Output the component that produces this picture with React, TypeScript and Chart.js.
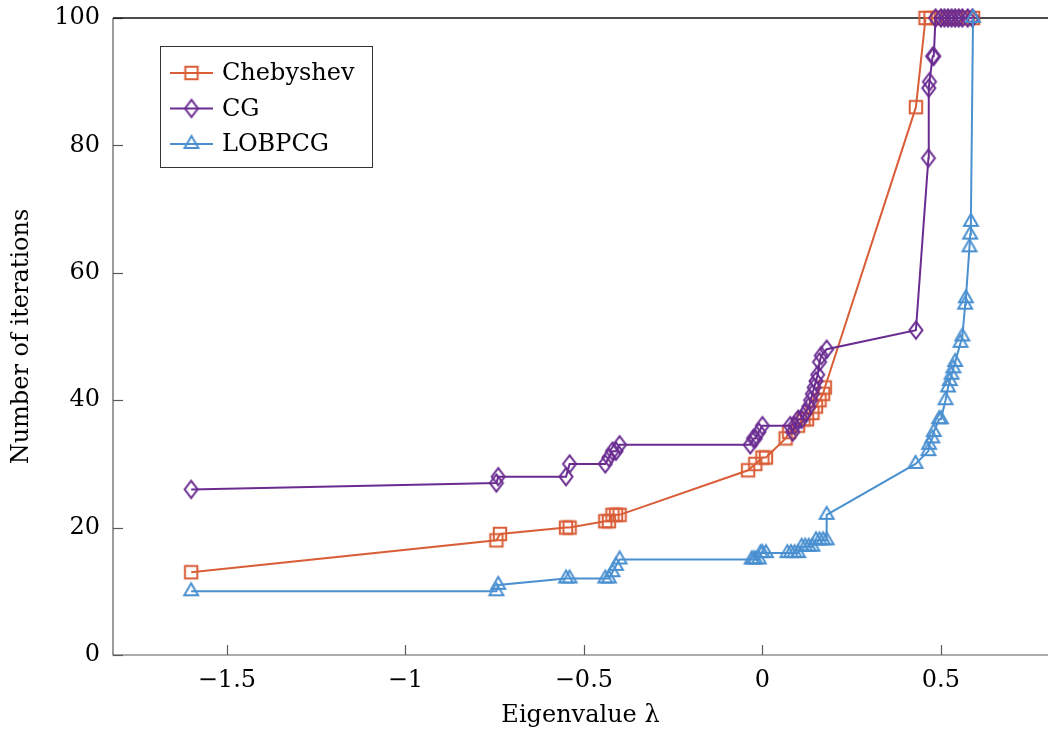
import React, { useEffect, useRef } from 'react';
import { Chart, registerables } from 'chart.js';

Chart.register(...registerables);

const xTickValues = [-1.5, -1, -0.5, 0, 0.5];
const yTickValues = [0, 20, 40, 60, 80, 100];

const seriesNames = ['Chebyshev', 'CG', 'LOBPCG'];
const seriesColors = ['rgb(217,94,56)', 'rgb(106,44,145)', 'rgb(74,144,208)'];
const markerKinds = ['square', 'diamond', 'triangle'];

const chebX = [-1.6, -0.745, -0.735, -0.55, -0.54, -0.44, -0.43, -0.42, -0.41, -0.4, -0.04, -0.02, 0.0, 0.01, 0.065, 0.075, 0.1, 0.115, 0.125, 0.14, 0.15, 0.16, 0.17, 0.175, 0.43, 0.457, 0.471, 0.49, 0.5, 0.52, 0.54, 0.56, 0.575, 0.59];
const chebY = [13, 18, 19, 20, 20, 21, 21, 22, 22, 22, 29, 30, 31, 31, 34, 35, 36, 37, 37, 38, 39, 40, 41, 42, 86, 100, 100, 100, 100, 100, 100, 100, 100, 100];

const cgX = [-1.6, -0.745, -0.74, -0.55, -0.54, -0.44, -0.43, -0.42, -0.41, -0.4, -0.034, -0.025, -0.02, -0.01, 0.0, 0.078, 0.085, 0.09, 0.1, 0.11, 0.12, 0.13, 0.135, 0.14, 0.145, 0.15, 0.155, 0.16, 0.165, 0.18, 0.43, 0.465, 0.466, 0.468, 0.477, 0.48, 0.485, 0.5, 0.51, 0.52, 0.53, 0.54, 0.55, 0.56, 0.575, 0.588];
const cgY = [26, 27, 28, 28, 30, 30, 31, 32, 32, 33, 33, 34, 34, 35, 36, 36, 35, 36, 37, 37, 38, 39, 40, 41, 42, 43, 44, 46, 47, 48, 51, 78, 89, 90, 94, 94, 100, 100, 100, 100, 100, 100, 100, 100, 100, 100];

const lobX = [-1.6, -0.745, -0.74, -0.55, -0.54, -0.44, -0.43, -0.42, -0.41, -0.4, -0.03, -0.025, -0.02, -0.01, -0.005, 0.0, 0.01, 0.07, 0.08, 0.09, 0.1, 0.11, 0.12, 0.13, 0.14, 0.15, 0.16, 0.17, 0.18, 0.18, 0.429, 0.465, 0.467, 0.476, 0.48, 0.495, 0.5, 0.513, 0.52, 0.525, 0.53, 0.535, 0.54, 0.555, 0.56, 0.568, 0.57, 0.58, 0.582, 0.584, 0.59];
const lobY = [10, 10, 11, 12, 12, 12, 12, 13, 14, 15, 15, 15, 15, 15, 16, 16, 16, 16, 16, 16, 16, 17, 17, 17, 17, 18, 18, 18, 18, 22, 30, 32, 33, 34, 35, 37, 37, 40, 42, 43, 44, 45, 46, 49, 50, 55, 56, 64, 66, 68, 100];

const FONT_FAMILY = '"DejaVu Serif", serif';

function makeMarker(kind: string, color: string): HTMLCanvasElement {
  const c = document.createElement('canvas');
  c.width = 28;
  c.height = 28;
  const g = c.getContext('2d') as CanvasRenderingContext2D;
  g.strokeStyle = color;
  g.lineWidth = 2;
  const cx = 14;
  const cy = 14;
  g.beginPath();
  if (kind === 'square') {
    g.rect(cx - 6.2, cy - 6.2, 12.4, 12.4);
  } else if (kind === 'diamond') {
    g.moveTo(cx, cy - 8.6);
    g.lineTo(cx + 6.5, cy);
    g.lineTo(cx, cy + 8.6);
    g.lineTo(cx - 6.5, cy);
    g.closePath();
  } else {
    const r = 8;
    g.moveTo(cx, cy - r);
    g.lineTo(cx + r * 0.866, cy + r / 2);
    g.lineTo(cx - r * 0.866, cy + r / 2);
    g.closePath();
  }
  g.stroke();
  return c;
}

function zip(xs: number[], ys: number[]) {
  return xs.map((x, i) => ({ x, y: ys[i] }));
}

function fmt(v: number): string {
  return v < 0 ? '\u2212' + String(Math.abs(v)) : String(v);
}

export default function App() {
  const ref = useRef<HTMLCanvasElement | null>(null);

  useEffect(() => {
    const canvas = ref.current;
    if (!canvas) return;
    const markers = seriesColors.map((c, i) => makeMarker(markerKinds[i], c));

    const framePlugin = {
      id: 'pgfFrame',
      beforeDatasetsDraw(chart: any) {
        const { ctx, chartArea, scales } = chart;
        const { left, right, top, bottom } = chartArea;
        ctx.save();
        ctx.lineWidth = 1.2;
        ctx.strokeStyle = '#5a5a5a';
        xTickValues.forEach((v) => {
          const px = Math.round(scales.x.getPixelForValue(v)) + 0.5;
          ctx.beginPath();
          ctx.moveTo(px, bottom);
          ctx.lineTo(px, bottom - 10);
          ctx.stroke();
        });
        yTickValues.forEach((v) => {
          const py = Math.round(scales.y.getPixelForValue(v)) + 0.5;
          ctx.beginPath();
          ctx.moveTo(left, py);
          ctx.lineTo(left + 10, py);
          ctx.stroke();
        });
        ctx.beginPath();
        ctx.moveTo(left, top);
        ctx.lineTo(left, bottom);
        ctx.lineTo(right, bottom);
        ctx.stroke();
        ctx.strokeStyle = '#111';
        ctx.lineWidth = 1.4;
        ctx.beginPath();
        ctx.moveTo(left, top);
        ctx.lineTo(right, top);
        ctx.stroke();
        ctx.restore();
      },
    };

    const legendPlugin = {
      id: 'pgfLegend',
      afterDraw(chart: any) {
        const ctx = chart.ctx;
        ctx.save();
        ctx.fillStyle = '#fff';
        ctx.fillRect(160.5, 46.5, 212, 121);
        ctx.strokeStyle = '#333';
        ctx.lineWidth = 1;
        ctx.strokeRect(160.5, 46.5, 212, 121);
        seriesNames.forEach((name, i) => {
          const y = 73 + i * 35.5;
          ctx.strokeStyle = seriesColors[i];
          ctx.lineWidth = 2;
          ctx.beginPath();
          ctx.moveTo(170, y);
          ctx.lineTo(213, y);
          ctx.stroke();
          ctx.drawImage(markers[i], 191.5 - 14, y - 14);
          ctx.fillStyle = '#000';
          ctx.font = '24px ' + FONT_FAMILY;
          ctx.textBaseline = 'middle';
          ctx.textAlign = 'left';
          ctx.fillText(name, 222, y + 1);
        });
        ctx.restore();
      },
    };

    const datasets = [
      { label: seriesNames[0], data: zip(chebX, chebY), order: 3 },
      { label: seriesNames[1], data: zip(cgX, cgY), order: 2 },
      { label: seriesNames[2], data: zip(lobX, lobY), order: 1 },
    ].map((d, i) => ({
      ...d,
      borderColor: seriesColors[i],
      backgroundColor: seriesColors[i],
      borderWidth: 2,
      pointStyle: markers[i] as any,
      pointRadius: 6,
      pointHoverRadius: 6,
      tension: 0,
      clip: false as any,
      showLine: true,
    }));

    const tickFont = { family: FONT_FAMILY, size: 24 };

    const chart = new Chart(canvas, {
      type: 'scatter',
      data: { datasets },
      options: {
        animation: false,
        responsive: false,
        devicePixelRatio: 1,
        layout: { autoPadding: false, padding: { top: 18, right: 2, left: 0, bottom: 0 } },
        plugins: {
          legend: { display: false },
          tooltip: { enabled: false },
        },
        scales: {
          x: {
            type: 'linear',
            min: -1.819,
            max: 0.8,
            grid: { display: false, drawTicks: false },
            border: { display: false },
            afterBuildTicks: (scale: any) => {
              scale.ticks = xTickValues.map((v) => ({ value: v }));
            },
            afterFit: (scale: any) => {
              scale.height = 75;
              scale.paddingLeft = 0;
              scale.paddingRight = 0;
            },
            ticks: {
              color: '#000',
              font: tickFont,
              padding: 11,
              maxRotation: 0,
              autoSkip: false,
              callback: (v: any) => fmt(Number(v)),
            },
            title: {
              display: true,
              text: 'Eigenvalue λ',
              color: '#000',
              font: tickFont,
              padding: { top: 0, bottom: 0 },
            },
          },
          y: {
            type: 'linear',
            min: 0,
            max: 100,
            grid: { display: false, drawTicks: false },
            border: { display: false },
            afterBuildTicks: (scale: any) => {
              scale.ticks = yTickValues.map((v) => ({ value: v }));
            },
            afterFit: (scale: any) => {
              scale.width = 113;
              scale.paddingTop = 0;
              scale.paddingBottom = 0;
            },
            ticks: {
              color: '#000',
              font: tickFont,
              padding: 13,
              autoSkip: false,
              callback: (v: any) => fmt(Number(v)),
            },
            title: {
              display: true,
              text: 'Number of iterations',
              color: '#000',
              font: tickFont,
              padding: { top: 7, bottom: 0 },
            },
          },
        },
      },
      plugins: [framePlugin, legendPlugin],
    } as any);

    return () => {
      chart.destroy();
    };
  }, []);

  return (
    <div style={{ position: 'fixed', left: 0, top: 0, width: 1050, height: 730, background: '#fff' }}>
      <canvas ref={ref} width={1050} height={730} style={{ display: 'block', width: 1050, height: 730 }} />
    </div>
  );
}
